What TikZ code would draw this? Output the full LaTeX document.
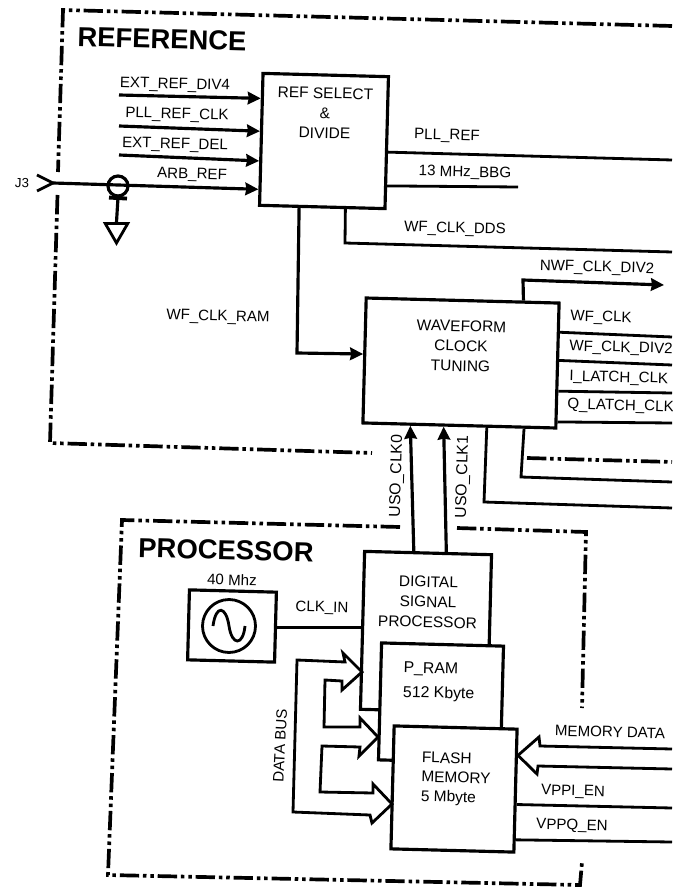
\documentclass[tikz,border=0pt]{standalone}
\usepackage{fontspec}
\setmainfont{Liberation Sans}
\usetikzlibrary{arrows.meta,calc,shapes.geometric}
\tikzset{
  tilt/.style={rotate=-1.5},
  box/.style={draw,fill=white,tilt,line width=1.8pt,inner sep=0pt},
  lbl/.style={tilt,font=\fontsize{8.6}{10}\selectfont,inner sep=0pt},
  boxlbl/.style={lbl,align=center,font=\fontsize{8.8}{11.4}\selectfont},
  hdr/.style={tilt,font=\fontsize{15.6}{18}\selectfont\bfseries,inner sep=0pt},
  wire/.style={line width=1.6pt},
  arr/.style={-{Stealth[length=2.6mm,width=2.5mm,inset=0.2mm]},line width=1.8pt},
  bus/.style={line width=1.6pt,line join=miter},
  frame/.style={line width=2.1pt,dash pattern=on 11pt off 2.2pt on 2pt off 2.2pt on 2pt off 2.2pt},
}
\begin{document}
\begin{tikzpicture}[x=0.02cm,y=-0.02cm]
\useasboundingbox (0,0) rectangle (672,888);
\clip (0,0) rectangle (672,888);
\draw[frame] (672,26)--(63,10)--(58,172);
\draw[frame] (57.5,195)--(50,443)--(372,453);
\draw[frame] (527,458)--(672,462);
\draw[frame] (400,527)--(122,520)--(108,875)--(580,885)--(582,862);
\draw[frame] (457,528)--(586,532)--(582,708);
\node[hdr] (reflbl) at (162,39) {REFERENCE};
\node[hdr] (prolbl) at (226,550) {PROCESSOR};
\node[box,minimum width=2.51cm,minimum height=2.64cm] (ref) at (324,141) {};
\node[boxlbl] (reftxt) at (325,113) {REF SELECT\\\&\\DIVIDE};
\node[box,minimum width=3.86cm,minimum height=2.5cm] (wave) at (461,363) {};
\node[boxlbl] (wavetxt) at (461,346) {WAVEFORM\\CLOCK\\TUNING};
\node[box,minimum width=2.54cm,minimum height=3.16cm] (dsp) at (426,632) {};
\node[boxlbl] (dsptxt) at (428,602) {DIGITAL\\SIGNAL\\PROCESSOR};
\node[box,minimum width=2.44cm,minimum height=2.34cm] (pram) at (441,703) {};
\node[boxlbl,align=left,font=\fontsize{9}{14}\selectfont] (pramtxt) at (439,682) {P\_RAM\\512 Kbyte};
\node[box,minimum width=2.46cm,minimum height=2.46cm] (flash) at (454,789) {};
\node[boxlbl,align=left,font=\fontsize{8.8}{11}\selectfont] (flashtxt) at (456,779) {FLASH\\MEMORY\\5 Mbyte};
\node[box,minimum width=1.74cm,minimum height=1.4cm] (osc) at (232,626) {};
\node[draw,circle,line width=1.6pt,minimum size=1.06cm,inner sep=0pt] (sine) at (229,626) {};
\draw[wire] (213,626) .. controls (216,604) and (226,606) .. (229,626) .. controls (232,646) and (243,646) .. (245,626);
\node[lbl] (osclbl) at (232,580) {40 Mhz};
\foreach \i/\nm/\yy/\frac/\cx/\cy in {0/EXT\_REF\_DIV4/95/.197/175/85,1/PLL\_REF\_CLK/126/.44/177/115,2/EXT\_REF\_DEL/155/.66/175/145}{
  \coordinate (in\i) at (119,\yy);
  \draw[arr] (in\i)--($(ref.north west)!\frac!(ref.south west)$);
  \node[lbl] (inlbl\i) at (\cx,\cy) {\nm};
}
\node[lbl,font=\fontsize{7.5}{8}\selectfont] (j3lbl) at (22,183) {J3};
\coordinate (jack) at (53,183);
\draw[wire] (37,175)--(jack)--(37,191);
\draw[arr] (jack)--($(ref.north west)!.87!(ref.south west)$);
\node[lbl] (arblbl) at (192,175) {ARB\_REF};
\node[draw,circle,line width=1.8pt,minimum size=0.4cm,inner sep=0pt] (probe) at (118,186) {};
\node[draw,fill=white,line width=1.6pt,regular polygon,regular polygon sides=3,shape border rotate=180,minimum size=0.52cm,inner sep=0pt] (gnd) at (116.5,230) {};
\draw[line width=1.8pt] (probe.south)--($(gnd.corner 2)!.5!(gnd.corner 3)$);
\draw[line width=2.2pt] ($(probe.south)+(-9,0)$)--($(probe.south)+(9,1)$);
\coordinate (pllend) at (672,160);
\coordinate (bbgend) at (518,187);
\coordinate (ddsend) at (672,252);
\draw[wire] ($(ref.north east)!.57!(ref.south east)$)--(pllend);
\draw[wire] ($(ref.north east)!.82!(ref.south east)$)--(bbgend);
\draw[wire] ($(ref.south west)!.68!(ref.south east)$)--(345,243)--(ddsend);
\node[lbl] (plllbl) at (447,136) {PLL\_REF};
\node[lbl] (bbglbl) at (465,173) {13 MHz\_BBG};
\node[lbl] (ddslbl) at (455,229) {WF\_CLK\_DDS};
\draw[arr] ($(ref.south west)!.32!(ref.south east)$)--(297,353)--($(wave.north west)!.45!(wave.south west)$);
\node[lbl] (ramlbl) at (218,317) {WF\_CLK\_RAM};
\coordinate (nwfend) at (664,285);
\draw[arr] ($(wave.north west)!.81!(wave.north east)$)--(523,280)--(nwfend);
\node[lbl] (nwflbl) at (597,268) {NWF\_CLK\_DIV2};
\foreach \i/\nm/\yy/\frac/\lx/\ly in {0/WF\_CLK/337/.24/570/317,1/WF\_CLK\_DIV2/365/.46/569/347,2/I\_LATCH\_CLK/393/.7/569/377,3/Q\_LATCH\_CLK/423/.94/567/405}{
  \coordinate (out\i) at (672,\yy);
  \draw[wire] ($(wave.north east)!\frac!(wave.south east)$)--(out\i);
  \node[lbl,anchor=west] (outlbl\i) at (\lx,\ly) {\nm};
}
\coordinate (lowa) at (672,482);
\coordinate (lowb) at (672,508);
\draw[wire] ($(wave.south west)!.83!(wave.south east)$)--(521,477)--(lowa);
\draw[wire] ($(wave.south west)!.64!(wave.south east)$)--(484,502)--(lowb);
\draw[arr] ($(dsp.north west)!.39!(dsp.north east)$)--($(wave.south west)!.25!(wave.south east)$);
\draw[arr] ($(dsp.north west)!.64!(dsp.north east)$)--($(wave.south west)!.42!(wave.south east)$);
\node[lbl,rotate=90,font=\fontsize{9}{10}\selectfont] (uso0) at (397,476) {USO\_CLK0};
\node[lbl,rotate=90,font=\fontsize{9}{10}\selectfont] (uso1) at (463,477) {USO\_CLK1};
\draw[wire] (osc.east)--(dsp.west |- osc.east);
\node[lbl] (clklbl) at (322,608) {CLK\_IN};
\draw[bus] (362,672)--(343,653)--(345,662)--(297,660)--(293,812)--(370,815)--(372,823)--(392,804)--(373,784)--(373,793)--(320,792)--(322,746)--(360,747)--(359,756)--(378,737)--(360,718)--(360,727)--(324,727)--(325,680)--(342,681)--(342,690)--cycle;
\node[lbl,rotate=88.5] (buslbl) at (280,746) {DATA BUS};
\coordinate (mema) at (672,749);
\coordinate (memb) at (672,769);
\draw[bus] ($(flash.north east)!.22!(flash.south east)$)--(539,737)--(540,746)--(mema);
\draw[bus] ($(flash.north east)!.22!(flash.south east)$)--(537,774)--(538,766)--(memb);
\node[lbl] (memlbl) at (610,732) {MEMORY DATA};
\coordinate (vppi) at (672,808);
\coordinate (vppq) at (672,842);
\draw[wire] ($(flash.north east)!.61!(flash.south east)$)--(vppi);
\draw[wire] ($(flash.north east)!.89!(flash.south east)$)--(vppq);
\node[lbl] (vilbl) at (573,792) {VPPI\_EN};
\node[lbl] (vqlbl) at (572,826) {VPPQ\_EN};
\end{tikzpicture}
\end{document}
